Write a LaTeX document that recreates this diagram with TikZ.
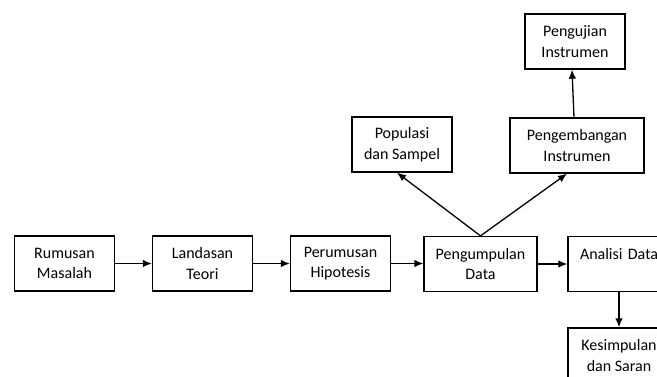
\documentclass[tikz,border=0pt]{standalone}
\usepackage{fontspec}
\setmainfont{Carlito}
\usetikzlibrary{arrows.meta}
\begin{document}
\begin{tikzpicture}[x=1pt, y=-1pt,
        >={Latex[length=9pt, width=7.5pt]},
        stage/.style={rectangle, draw, line width=1.3pt, minimum width=100pt, minimum height=55pt, align=center, font=\fontsize{16}{20.5}\selectfont},
        link/.style={->, line width=1.3pt}
    ]
        \useasboundingbox (0,0) rectangle (657,376);
        \clip (0,0) rectangle (657,376);

        % Main flow
        \node[stage] (rm) at (64.5,263.5) {Rumusan\\Masalah};
        \node[stage] (lt) at (202.5,263.5) {Landasan\\Teori};
        \node[stage] (ph) at (340.5,263.5) {Perumusan\\Hipotesis};
        \node[stage, minimum width=113pt] (pd) at (480.5,264) {Pengumpulan\\Data};
        \node[stage, minimum width=112pt, text width=88pt, align=left] (ad) at (624,264) {Analisi Data\\~};
        \node[stage, minimum width=102pt] (ks) at (619,355.5) {Kesimpulan\\dan Saran};

        % Branches from data collection
        \node[stage] (ps) at (402,144.5) {Populasi\\dan Sampel};
        \node[stage, minimum width=134pt] (pi) at (577,145.5) {Pengembangan\\Instrumen};
        \node[stage] (ui) at (575,41.5) {Pengujian\\Instrumen};

        \draw[link] (rm) -- (lt);
        \draw[link] (lt) -- (ph);
        \draw[link] (ph) -- (ph -| pd.west);
        \draw[link] (pd) -- (ad);
        \draw[link] (ad.south -| ks.north) -- (ks.north);
        \draw[link] (pd.north) -- ([xshift=-5pt]ps.south);
        \draw[link] (pd.north) -- ([xshift=-10pt]pi.south);
        \draw[link] ([xshift=-3pt]pi.north) -- ([xshift=-3pt]ui.south);
    \end{tikzpicture}
\end{document}
